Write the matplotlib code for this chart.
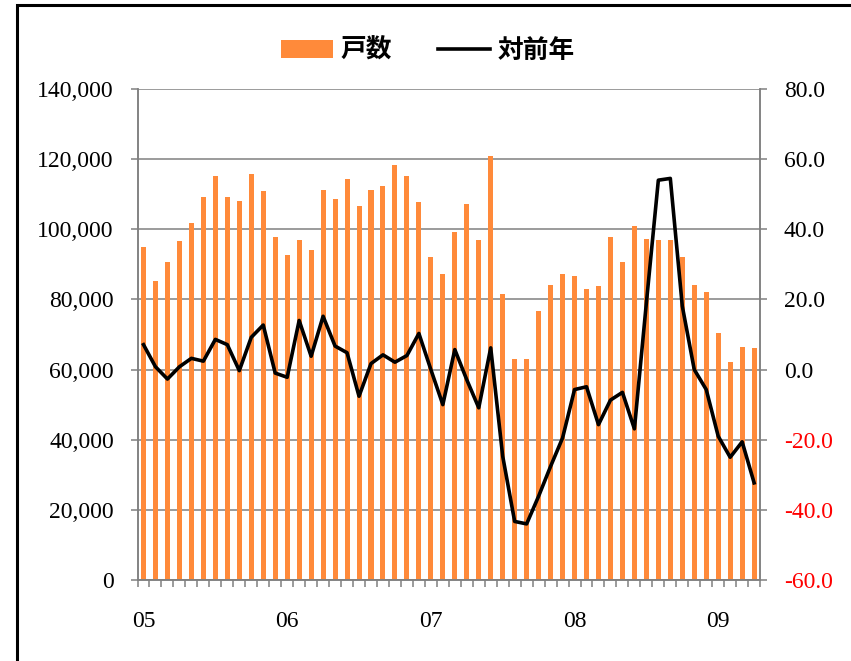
import matplotlib
matplotlib.use("Agg")
import matplotlib.pyplot as plt
from matplotlib.patches import Rectangle
from matplotlib.ticker import FixedLocator, FuncFormatter

# 月次データ 2005/01 - 2009/04
units = [95.0, 85.2, 90.7, 96.6, 101.7, 109.1, 115.2, 109.1, 108.0, 115.8, 110.9, 97.8,
         92.8, 96.9, 94.2, 111.2, 108.6, 114.3, 106.5, 111.1, 112.3, 118.2, 115.3, 107.8,
         92.1, 87.2, 99.3, 107.2, 96.9, 121.0, 81.6, 62.9, 62.9, 76.8, 84.0, 87.2,
         86.8, 82.9, 83.8, 97.8, 90.7, 100.8, 97.1, 96.8, 97.0, 92.0, 84.1, 82.1,
         70.5, 62.1, 66.4, 66.1]
units = [u * 1000 for u in units]
yoy = [7.1, 0.8, -2.7, 0.8, 3.2, 2.4, 8.6, 7.1, -0.3, 9.2, 12.7, -1.0,
       -2.2, 14.0, 3.8, 15.2, 6.7, 4.8, -7.6, 1.7, 4.2, 2.1, 4.0, 10.3,
       0.0, -10.0, 5.7, -2.9, -10.9, 6.2, -24.7, -43.3, -44.0, -36.1, -27.6, -19.5,
       -5.7, -4.9, -15.7, -8.7, -6.5, -16.9, 19.0, 54.0, 54.5, 18.1, 0.0, -5.7,
       -19.0, -25.0, -20.6, -32.3]
year_labels = ["05", "06", "07", "08", "09"]
left_ticks = [0, 20000, 40000, 60000, 80000, 100000, 120000, 140000]
right_ticks = [-60, -40, -20, 0, 20, 40, 60, 80]

ORANGE, GRID = "#ff8a3a", "#808080"
SERIF = "Liberation Serif"
JP = ["Noto Sans CJK JP", "DejaVu Sans"]

fig = plt.figure(figsize=(8.51, 6.61), dpi=100)
ax = fig.add_axes([0.1616, 0.1225, 0.7316, 0.7429])
ax2 = ax.twinx()

x = list(range(len(units)))
ax.bar(x, units, width=0.42, color=ORANGE, zorder=2, label="戸数")
ax2.plot(x, yoy, color="black", lw=2.6, label="対前年", zorder=3)

ax.set_xlim(-0.5, len(units) - 0.5)
ax.set_ylim(0, 140000)
ax2.set_ylim(-60, 80)

ax.yaxis.set_major_locator(FixedLocator(left_ticks))
ax.yaxis.set_major_formatter(FuncFormatter(lambda v, p: f"{v:,.0f}"))
ax2.yaxis.set_major_locator(FixedLocator(right_ticks))
ax2.yaxis.set_major_formatter(FuncFormatter(lambda v, p: f"{v:.1f}"))

ax.set_xticks([i * 12 for i in range(len(year_labels))], year_labels)
ax.set_xticks([i - 0.5 for i in range(len(units) + 1)], minor=True)
ax.tick_params(axis="x", which="major", length=0, pad=22)
ax.tick_params(axis="x", which="minor", length=5, width=1.1, color=GRID)
ax.tick_params(axis="y", length=5, width=1.1, color=GRID, pad=12)
ax2.tick_params(axis="y", length=5, width=1.1, color=GRID, pad=12)

for a in (ax, ax2):
    for lab in a.get_xticklabels() + a.get_yticklabels():
        lab.set_fontfamily(SERIF)
        lab.set_fontsize(17)
for lab, v in zip(ax2.get_yticklabels(), right_ticks):
    lab.set_color("red" if v < 0 else "black")

ax.grid(axis="y", color=GRID, lw=1.1, zorder=0)
ax.set_axisbelow(True)
for a in (ax, ax2):
    for s in a.spines.values():
        s.set_color(GRID)
        s.set_linewidth(1.1)
    a.spines["top"].set_visible(False)

h1, l1 = ax.get_legend_handles_labels()
h2, l2 = ax2.get_legend_handles_labels()
fig.legend(h1 + h2, l1 + l2, loc="center", bbox_to_anchor=(0.503, 0.924), ncol=2,
           frameon=False, handlelength=2.0, handletextpad=0.3, columnspacing=1.8,
           prop={"family": JP, "weight": "bold", "size": 18.5})

# 外枠
fig.patches.append(Rectangle((17 / 851, -0.1), 1.2, 1.1 - 5 / 661,
                             transform=fig.transFigure, fill=False,
                             edgecolor="black", lw=2.2))

fig.savefig("out.png", dpi=100)
